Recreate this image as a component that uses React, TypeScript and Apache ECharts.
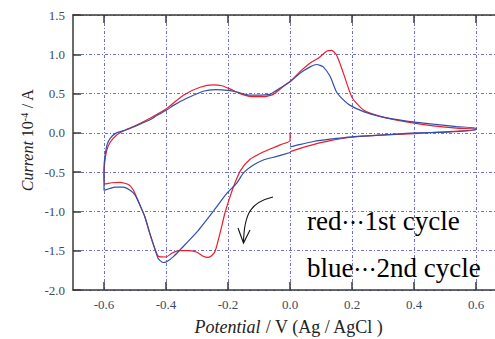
import React, { useEffect, useRef } from "react";
import * as echarts from "echarts";

// Tick positions
const xTicks = [-0.6, -0.4, -0.2, 0.0, 0.2, 0.4, 0.6];
// Visible x-range (plot frame is cropped at the right edge)
const xMin = -0.7;
const xMax = 0.661;

// 1st cycle (red): start at 0 V, sweep negative, reverse at -0.6 V, up to +0.6 V, back to 0 V
const redCycle: [number, number][] = [
  [0.0, 0.0], [0.0, -0.1], [-0.03, -0.15], [-0.06, -0.2], [-0.09, -0.25], [-0.13, -0.34],
  [-0.16, -0.48], [-0.18, -0.66], [-0.195, -0.83], [-0.21, -1.02], [-0.226, -1.28],
  [-0.242, -1.51], [-0.255, -1.57], [-0.266, -1.585], [-0.28, -1.57], [-0.3, -1.52],
  [-0.325, -1.5], [-0.355, -1.5], [-0.38, -1.53], [-0.4, -1.58], [-0.425, -1.57],
  [-0.44, -1.43], [-0.455, -1.25], [-0.468, -1.07], [-0.484, -0.92], [-0.505, -0.73],
  [-0.52, -0.66], [-0.548, -0.63], [-0.575, -0.635], [-0.597, -0.65], [-0.6, -0.55],
  [-0.598, -0.39], [-0.591, -0.22], [-0.58, -0.12], [-0.56, -0.03], [-0.53, 0.04],
  [-0.505, 0.08], [-0.45, 0.19], [-0.398, 0.31], [-0.344, 0.48], [-0.29, 0.58],
  [-0.247, 0.61], [-0.22, 0.6], [-0.194, 0.56], [-0.161, 0.5], [-0.118, 0.46],
  [-0.086, 0.46], [-0.054, 0.49], [-0.022, 0.59], [0.005, 0.67], [0.032, 0.78],
  [0.065, 0.89], [0.091, 0.95], [0.118, 1.04], [0.134, 1.05], [0.15, 0.99],
  [0.172, 0.76], [0.2, 0.45], [0.237, 0.29], [0.29, 0.21], [0.376, 0.14],
  [0.462, 0.09], [0.537, 0.06], [0.6, 0.05], [0.6, 0.04], [0.484, 0.01],
  [0.4, -0.01], [0.29, -0.03], [0.2, -0.056], [0.129, -0.1], [0.075, -0.15],
  [0.03, -0.2], [0.0, -0.24],
];

// 2nd cycle (blue)
const blueCycle: [number, number][] = [
  [0.0, -0.25], [-0.043, -0.3], [-0.086, -0.345], [-0.118, -0.41], [-0.15, -0.51],
  [-0.172, -0.64], [-0.204, -0.77], [-0.248, -1.0], [-0.3, -1.26], [-0.355, -1.49],
  [-0.376, -1.575], [-0.398, -1.64], [-0.41, -1.65], [-0.425, -1.6], [-0.435, -1.49],
  [-0.452, -1.28], [-0.468, -1.07], [-0.484, -0.92], [-0.5, -0.79], [-0.516, -0.73],
  [-0.538, -0.69], [-0.565, -0.69], [-0.591, -0.72], [-0.6, -0.73], [-0.6, -0.45],
  [-0.597, -0.3], [-0.59, -0.15], [-0.58, -0.07], [-0.56, 0.0], [-0.527, 0.04],
  [-0.484, 0.11], [-0.45, 0.17], [-0.43, 0.22], [-0.398, 0.29], [-0.376, 0.35],
  [-0.333, 0.44], [-0.28, 0.53], [-0.24, 0.55], [-0.2, 0.54], [-0.172, 0.52],
  [-0.129, 0.48], [-0.107, 0.48], [-0.065, 0.49], [-0.032, 0.57], [0.0, 0.65],
  [0.032, 0.76], [0.065, 0.84], [0.086, 0.87], [0.107, 0.84], [0.129, 0.72],
  [0.15, 0.52], [0.172, 0.42], [0.194, 0.35], [0.237, 0.27], [0.29, 0.21],
  [0.376, 0.15], [0.462, 0.11], [0.537, 0.08], [0.6, 0.06], [0.6, 0.04],
  [0.505, 0.01], [0.4, 0.0], [0.29, -0.03], [0.2, -0.05], [0.129, -0.08],
  [0.075, -0.11], [0.03, -0.15], [0.0, -0.18],
];

const serif = "Liberation Serif";
const cjk = "Noto Sans CJK JP";
const labelColor = "#3e4a5c";
const frameColor = "#3a3a3a";
const gridColor = "#7070cc";

export default function App() {
  const ref = useRef<HTMLDivElement>(null);
  useEffect(() => {
    document.body.style.margin = "0";
    const chart = echarts.init(ref.current!, null, { renderer: "svg" });
    const fmt = (v: number) => (Math.abs(v) < 1e-9 ? "0.0" : v.toFixed(1));
    chart.setOption({
      animation: false,
      backgroundColor: "#ffffff",
      grid: { left: 73, top: 15, right: 0, bottom: 49, containLabel: false },
      xAxis: [
        {
          type: "value",
          min: xMin,
          max: xMax,
          position: "bottom",
          axisLine: { show: true, onZero: false, lineStyle: { color: frameColor, width: 1.5 } },
          axisTick: { show: true, inside: true, length: 8, customValues: xTicks, lineStyle: { color: frameColor, width: 1.5 } },
          axisLabel: { customValues: xTicks, formatter: fmt, margin: 8, fontFamily: serif, fontSize: 13, color: labelColor },
          splitLine: { show: true, lineStyle: { color: gridColor, type: [3, 2, 1, 2], width: 1 } },
        },
        {
          type: "value",
          min: xMin,
          max: xMax,
          position: "top",
          axisLine: { show: true, onZero: false, lineStyle: { color: frameColor, width: 1.5 } },
          axisTick: { show: true, inside: true, length: 8, customValues: xTicks, lineStyle: { color: frameColor, width: 1.5 } },
          axisLabel: { show: false },
          splitLine: { show: false },
        },
      ],
      yAxis: {
        type: "value",
        min: -2.0,
        max: 1.5,
        interval: 0.5,
        axisLine: { show: true, onZero: false, lineStyle: { color: frameColor, width: 1.5 } },
        axisTick: { show: true, inside: true, length: 8, lineStyle: { color: frameColor, width: 1.5 } },
        axisLabel: { formatter: fmt, margin: 8, fontFamily: serif, fontSize: 13, color: labelColor },
        splitLine: { show: true, lineStyle: { color: gridColor, type: [3, 2, 1, 2], width: 1 } },
      },
      series: [
        {
          type: "line",
          name: "1st cycle",
          data: redCycle,
          showSymbol: false,
          smooth: 0.2,
          lineStyle: { color: "#ec1c2a", width: 1.2 },
          z: 3,
        },
        {
          type: "line",
          name: "2nd cycle",
          data: blueCycle,
          showSymbol: false,
          smooth: 0.2,
          lineStyle: { color: "#2f4fae", width: 1.2 },
          z: 4,
        },
      ],
      graphic: [
        {
          type: "text",
          x: 27,
          y: 140,
          rotation: Math.PI / 2,
          style: {
            text: "{i|Current} {n|10}{s|-4}{n| / A}",
            align: "center",
            verticalAlign: "middle",
            fill: "#222",
            fontFamily: serif,
            fontSize: 16,
            rich: {
              i: { fontStyle: "italic", fontFamily: serif, fontSize: 16, fill: "#222" },
              n: { fontFamily: serif, fontSize: 16, fill: "#222" },
              s: { fontFamily: serif, fontSize: 10, verticalAlign: "top", fill: "#222" },
            },
          },
        },
        {
          type: "text",
          x: 289,
          y: 327,
          style: {
            text: "{i|Potential}{n| / V (Ag / AgCl )}",
            align: "center",
            verticalAlign: "middle",
            fill: "#222",
            fontFamily: serif,
            fontSize: 18,
            rich: {
              i: { fontStyle: "italic", fontFamily: serif, fontSize: 18, fill: "#222" },
              n: { fontFamily: serif, fontSize: 18, fill: "#222" },
            },
          },
        },
        {
          type: "text",
          x: 307,
          y: 221,
          z: 10,
          style: {
            text: "{a|red}{b|…}{a|1st cycle}",
            align: "left",
            verticalAlign: "middle",
            fill: "#000",
            fontFamily: serif,
            fontSize: 27,
            rich: {
              a: { fontFamily: serif, fontSize: 27, lineHeight: 32, fill: "#000" },
              b: { fontFamily: cjk, fontSize: 23, lineHeight: 32, fill: "#000" },
            },
          },
        },
        {
          type: "text",
          x: 307,
          y: 268,
          z: 10,
          style: {
            text: "{a|blue}{b|…}{a|2nd cycle}",
            align: "left",
            verticalAlign: "middle",
            fill: "#000",
            fontFamily: serif,
            fontSize: 27,
            rich: {
              a: { fontFamily: serif, fontSize: 27, lineHeight: 32, fill: "#000" },
              b: { fontFamily: cjk, fontSize: 23, lineHeight: 32, fill: "#000" },
            },
          },
        },
        {
          type: "bezierCurve",
          z: 10,
          shape: { x1: 273, y1: 197, cpx1: 252, cpy1: 202, cpx2: 244, cpy2: 212, x2: 243.5, y2: 243 },
          style: { stroke: "#111", lineWidth: 1.1, fill: null },
        },
        {
          type: "polyline",
          z: 10,
          shape: { points: [[238, 228], [243.5, 243], [250, 230]] },
          style: { stroke: "#111", lineWidth: 1.1, fill: null },
        },
      ],
    });
    return () => chart.dispose();
  }, []);
  return (
    <div
      ref={ref}
      style={{ width: 495, height: 339, position: "absolute", left: 0, top: 0, background: "#fff" }}
    />
  );
}
